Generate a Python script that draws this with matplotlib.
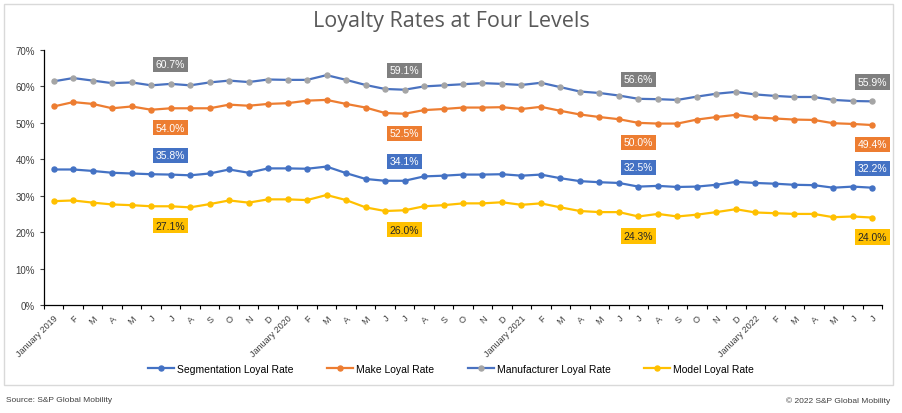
import matplotlib
matplotlib.use('Agg')
import matplotlib.pyplot as plt
from matplotlib.patches import Rectangle
from matplotlib.ticker import FuncFormatter, MultipleLocator

# -----------------------------
# 1. DATA  (Jan 2019 .. Jul 2022, monthly, % loyal)
# -----------------------------
months = (['January 2019', 'F', 'M', 'A', 'M', 'J', 'J', 'A', 'S', 'O', 'N', 'D',
           'January 2020', 'F', 'M', 'A', 'M', 'J', 'J', 'A', 'S', 'O', 'N', 'D',
           'January 2021', 'F', 'M', 'A', 'M', 'J', 'J', 'A', 'S', 'O', 'N', 'D',
           'January 2022', 'F', 'M', 'A', 'M', 'J', 'J'])

segmentation = [37.2, 37.2, 36.8, 36.3, 36.1, 35.9, 35.8, 35.6, 36.1, 37.2, 36.3, 37.5,
                37.5, 37.4, 38.0, 36.2, 34.6, 34.1, 34.1, 35.3, 35.5, 35.8, 35.8, 35.9,
                35.5, 35.8, 34.8, 34.0, 33.7, 33.5, 32.5, 32.7, 32.4, 32.5, 33.0, 33.8,
                33.5, 33.3, 33.0, 32.9, 32.2, 32.5, 32.2]
make = [54.5, 55.7, 55.2, 54.0, 54.5, 53.6, 54.0, 54.0, 54.0, 55.0, 54.7, 55.2,
        55.4, 56.1, 56.3, 55.2, 54.2, 52.7, 52.5, 53.5, 53.8, 54.2, 54.2, 54.3,
        53.8, 54.4, 53.3, 52.3, 51.6, 51.0, 50.0, 49.8, 49.8, 50.9, 51.6, 52.2,
        51.5, 51.2, 50.9, 50.8, 49.9, 49.7, 49.4]
manufacturer = [61.4, 62.3, 61.6, 60.9, 61.1, 60.3, 60.7, 60.3, 61.1, 61.6, 61.2, 61.9,
                61.8, 61.8, 63.1, 61.8, 60.4, 59.3, 59.1, 60.0, 60.3, 60.6, 60.9, 60.7,
                60.4, 61.0, 59.8, 58.6, 58.2, 57.5, 56.6, 56.5, 56.3, 57.2, 58.0, 58.5,
                57.8, 57.4, 57.1, 57.1, 56.3, 56.0, 55.9]
model = [28.5, 28.7, 28.1, 27.6, 27.4, 27.1, 27.1, 26.8, 27.7, 28.7, 28.1, 29.0,
         29.0, 28.8, 30.2, 28.8, 26.8, 25.8, 26.0, 27.1, 27.4, 27.9, 27.9, 28.2,
         27.5, 27.9, 26.8, 25.8, 25.5, 25.5, 24.3, 25.0, 24.3, 24.8, 25.5, 26.3,
         25.4, 25.2, 25.0, 25.0, 24.1, 24.3, 24.0]

label_idx = [6, 18, 30, 42]   # July of each year gets a data label

# -----------------------------
# 2. FIGURE
# -----------------------------
plt.rcParams['font.family'] = ['Liberation Sans', 'DejaVu Sans']
W, H = 902, 414
fig = plt.figure(figsize=(W / 100, H / 100), dpi=100)
fig.patches.append(Rectangle((4 / W, 1 - 386 / H), 889 / W, 381 / H, transform=fig.transFigure,
                             fill=False, edgecolor='#D9D9D9', linewidth=1))

ax = fig.add_axes([44 / W, 1 - 306 / H, 838 / W, 255 / H])
x = list(range(len(months)))

series = [
    ('Segmentation Loyal Rate', segmentation, '#4472C4', '#4472C4', '#4472C4', 'white', -1),
    ('Make Loyal Rate', make, '#ED7D31', '#ED7D31', '#ED7D31', 'white', 1),
    ('Manufacturer Loyal Rate', manufacturer, '#4A72C0', '#A5A5A5', '#7F7F7F', 'white', -1),
    ('Model Loyal Rate', model, '#FFC000', '#FFC000', '#FFC000', '#262626', 1),
]

for name, vals, lc, mc, bc, tc, side in series:
    ax.plot(x, vals, color=lc, linewidth=1.6, marker='o', markersize=3.6,
            markerfacecolor=mc, markeredgecolor=mc, label=name)
    for i in label_idx:
        ax.annotate(f'{vals[i]:.1f}%', (x[i], vals[i]), xytext=(0, -14 * side),
                    textcoords='offset points', ha='center', va='center', fontsize=7.5,
                    color=tc, bbox=dict(boxstyle='square,pad=0.25', fc=bc, ec='none'))

ax.set_xlim(-0.5, len(months) - 0.5)
ax.set_ylim(0, 70)
ax.yaxis.set_major_locator(MultipleLocator(10))
ax.yaxis.set_major_formatter(FuncFormatter(lambda v, p: f'{v:.0f}%'))
ax.tick_params(axis='y', labelsize=7, colors='#404040', length=3, width=0.8)

ax.set_xticks(x)
ax.set_xticklabels(months, rotation=45, ha='right', rotation_mode='anchor', fontsize=6.5, color='#404040')
ax.tick_params(axis='x', which='major', length=0, pad=6)
ax.set_xticks([i - 0.5 for i in range(len(months) + 1)], minor=True)
ax.tick_params(axis='x', which='minor', length=3, width=0.8)

for s in ['top', 'right']:
    ax.spines[s].set_visible(False)
for s in ['left', 'bottom']:
    ax.spines[s].set_color('black')
    ax.spines[s].set_linewidth(0.9)

fig.legend(loc='center', bbox_to_anchor=(0.5, 1 - 370 / H), ncol=4, frameon=False,
           fontsize=7.5, handlelength=2.5, columnspacing=3.2, handletextpad=0.3)

fig.text(0.5, 1 - 22 / H, 'Loyalty Rates at Four Levels', ha='center', va='center',
         fontsize=15.5, color='#595959', family=['Open Sans', 'DejaVu Sans'])
fig.text(6 / W, 1 - 401 / H, 'Source: S&P Global Mobility', ha='left', va='center',
         fontsize=6, color='#404040')
fig.text(890 / W, 1 - 401 / H, '\u00a9 2022 S&P Global Mobility', ha='right', va='center',
         fontsize=6, color='#404040')

fig.savefig('out.png', dpi=100)
